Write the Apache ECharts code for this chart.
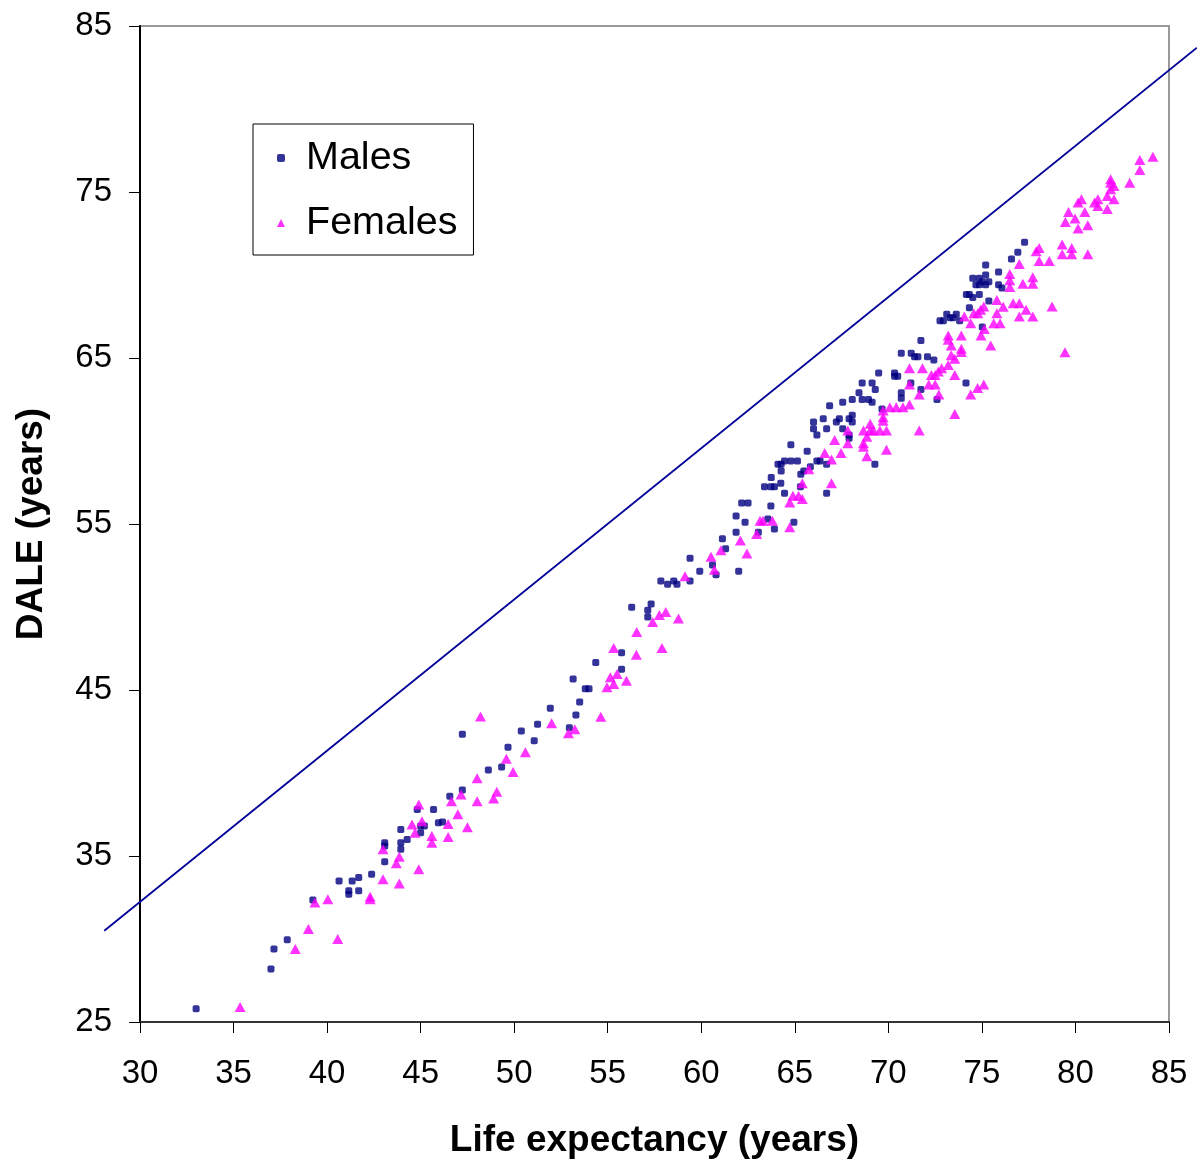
<!DOCTYPE html>
<html><head><meta charset="utf-8">
<script src="https://cdn.jsdelivr.net/npm/echarts@6/dist/echarts.min.js"></script>
<style>html,body{margin:0;padding:0;background:#fff}#c{width:1197px;height:1165px}</style>
</head><body><div id="c"></div>
<script>
const xTicks = [30,35,40,45,50,55,60,65,70,75,80,85];
const yTicks = [25,35,45,55,65,75,85];
const xTitle = 'Life expectancy (years)';
const yTitle = 'DALE (years)';
const seriesNames = ['Males','Females'];

const males = [
[33.0,25.8],[37.0,28.2],[37.16,29.4],[37.87,29.96],[39.24,32.35],[40.64,33.5],[41.16,32.9],[41.16,32.7],[41.34,33.5],[41.69,33.7],[41.69,32.9],[42.38,33.9],[43.08,35.8],[43.08,35.6],[43.08,34.65],[43.94,36.6],[43.94,35.8],[43.94,35.4],[44.28,36.0],[44.82,37.8],[45.0,36.8],[45.2,36.8],[45.0,36.4],[45.69,37.8],[45.95,37.0],
[55.74,47.25],[54.36,46.65],[55.74,46.25],[53.15,45.66],[53.8,45.08],[54.0,45.08],[53.5,44.28],[53.3,43.5],[51.93,43.9],[52.95,42.73],[51.25,42.93],[50.38,42.53],[51.07,41.95],[49.67,41.55],[47.23,42.33],[49.33,40.36],[48.62,40.18],[47.23,38.98],[46.56,38.6],[46.17,37.05],
[63.38,57.25],[63.72,57.25],[63.91,57.25],[64.25,57.45],[65.3,57.25],[64.45,56.85],[66.7,56.85],[62.16,56.27],[62.5,56.27],[63.72,56.08],[61.86,55.48],[62.34,55.1],[63.56,55.3],[64.95,55.1],[61.86,54.5],[63.05,54.5],[63.91,54.7],[61.13,54.11],[61.3,53.51],[59.4,52.93],[60.6,52.53],[59.92,52.15],[62.0,52.15],[60.79,51.95],[57.84,51.57],[58.2,51.37],[58.53,51.57],[58.7,51.37],[59.4,51.57],[56.28,49.98],[57.32,50.18],[57.14,49.8],[57.14,49.4],
[71.74,66.05],[70.69,65.28],[71.22,65.28],[71.4,65.08],[71.58,65.08],[72.09,65.08],[72.43,64.88],[69.48,64.1],[70.33,64.1],[70.33,63.9],[70.5,63.9],[68.6,63.5],[69.13,63.5],[69.3,63.1],[70.69,62.9],[70.69,62.57],[71.74,63.1],[72.6,62.5],[74.15,63.5],[68.43,62.9],[68.6,62.5],[68.94,62.5],[69.13,62.33],[68.07,62.5],[67.56,62.33],[66.86,62.13],[69.66,61.93],[68.07,61.55],[68.07,61.14],[67.9,61.34],[67.38,61.34],[67.22,61.14],[66.52,61.34],[66.0,61.14],[66.0,60.74],[66.7,60.74],[66.18,60.36],[67.56,60.74],[67.9,60.36],[67.9,60.16],[64.79,59.78],[65.66,59.38],[64.1,58.6],[64.27,58.6],[64.45,58.8],[64.79,58.8],[65.14,58.8],[64.27,58.19],[65.83,58.45],[66.18,58.8],[66.35,58.8],[66.7,58.6],[65.32,58.0],[65.48,58.19],[63.74,57.8],[69.28,58.6],
[77.28,71.97],[76.92,71.37],[76.58,70.96],[75.2,70.6],[75.89,70.18],[75.2,70.0],[74.51,69.8],[74.86,69.8],[75.02,69.6],[75.37,69.6],[75.2,69.42],[74.86,69.42],[74.68,69.42],[75.89,69.42],[76.07,69.22],[74.17,68.82],[74.33,68.82],[74.51,68.64],[74.86,68.82],[75.37,68.43],[74.33,68.03],[73.12,67.63],[73.63,67.63],[73.3,67.43],[73.46,67.43],[72.76,67.25],[72.94,67.25],[73.81,67.25],[75.02,66.86],[71.2,63.5]
];

const females = [
[35.35,25.9],[38.3,29.4],[39.0,30.6],[39.35,32.2],[40.04,32.4],[40.57,30.0],[42.3,32.55],[42.3,32.4],[42.99,35.4],[42.99,33.6],[43.7,34.56],[43.86,34.96],[43.86,33.35],[44.9,38.1],[44.9,34.2],[44.54,36.9],[44.7,36.4],[45.07,37.1],[45.6,36.2],[45.6,35.8],
[55.32,47.53],[56.53,47.13],[57.9,47.53],[55.14,45.77],[55.5,45.96],[55.32,45.36],[54.96,45.16],[56.0,45.56],[54.63,43.39],[52.0,43.0],[52.9,42.4],[53.24,42.63],[48.2,43.4],[50.6,41.25],[49.58,40.86],[49.94,40.06],[48.02,39.68],[49.07,38.87],[48.9,38.47],[47.16,38.7],[46.65,38.3],[48.02,38.3],[46.99,37.51],[47.5,36.73],[46.47,36.93],[46.47,36.14],
[65.4,57.45],[66.96,57.45],[64.73,56.3],[64.9,56.7],[65.2,56.7],[65.4,56.5],[63.14,55.2],[63.3,55.2],[63.8,55.2],[64.73,54.8],[62.96,54.4],[62.09,54.0],[62.44,53.23],[61.05,53.42],[60.52,53.03],[60.7,52.25],[59.13,51.85],[58.1,49.7],[57.76,49.52],[57.4,49.1],[58.78,49.3],[56.55,48.5],
[73.2,66.35],[73.9,66.35],[74.95,66.35],[75.13,66.75],[75.47,65.76],[73.36,65.76],[73.9,65.56],[73.9,65.36],[73.36,65.16],[73.55,64.96],[73.2,64.58],[72.85,64.38],[72.67,64.18],[72.5,63.98],[72.3,63.98],[73.55,63.98],[71.13,64.38],[71.82,64.38],[71.13,63.4],[72.16,63.4],[72.5,63.4],[71.65,62.8],[72.7,62.8],[75.1,63.4],[74.77,63.2],[74.4,62.8],[73.55,61.63],[71.65,60.64],[71.13,62.2],[70.78,62.03],[70.42,62.03],[70.08,62.03],[69.72,61.83],[69.72,61.43],[69.72,61.22],[69.03,61.04],[69.03,60.64],[68.67,60.64],[69.2,60.64],[69.55,60.64],[69.9,60.64],[68.85,60.26],[68.67,59.86],[68.67,59.66],[68.85,59.08],[69.9,59.48],[67.83,60.64],[67.83,59.86],[67.13,60.06],[67.47,59.28],[66.96,58.88],[66.6,59.28],[65.75,58.3],
[79.46,73.2],[80.66,73.0],[80.14,72.8],[79.29,71.84],[79.8,71.63],[79.8,71.25],[79.29,71.25],[80.66,71.25],[78.06,71.63],[77.9,71.43],[78.06,70.84],[78.6,70.84],[77.0,70.66],[76.49,70.06],[76.49,69.68],[76.49,69.28],[77.19,69.48],[77.72,69.86],[77.72,69.48],[75.8,68.5],[76.14,68.09],[76.67,68.3],[77.0,68.3],[77.36,67.9],[77.0,67.5],[77.72,67.5],[78.75,68.1],[75.8,67.7],[75.63,67.1],[75.97,67.1],[75.1,68.1],[74.93,67.9],[74.78,67.7],[74.57,67.7],[74.4,67.1],[74.06,67.5],[73.2,66.1],[79.44,65.34],
[84.14,77.13],[83.44,76.93],[83.44,76.33],[82.9,75.56],[81.88,75.77],[81.88,75.56],[82.06,75.36],[81.88,75.16],[81.7,74.76],[82.06,74.56],[81.7,73.98],[81.2,74.56],[81.02,74.36],[81.2,74.16],[80.32,74.56],[80.14,74.36],[80.5,73.8],[79.63,73.8],[79.98,73.4]
];

// reference line, endpoints (it runs past the plot frame)
const refLine = [[28.09,30.5],[86.49,83.69]];

const W = 1197, H = 1165;
const G = {left:140, right:28, top:26, bottom:143};
const xMin = xTicks[0], xMax = xTicks[xTicks.length-1];
const yMin = yTicks[0], yMax = yTicks[yTicks.length-1];
// a second, invisible full-canvas coordinate system with the same scale, so the
// reference line can extend beyond the frame like in the original
const xPer = (xMax - xMin) / (W - G.left - G.right);
const yPer = (yMax - yMin) / (H - G.top - G.bottom);

const FONT = '"Liberation Sans", Arial, sans-serif';
const chart = echarts.init(document.getElementById('c'), null, {renderer:'canvas'});
chart.setOption({
  animation: false,
  backgroundColor: '#fff',
  grid: [
    {left:G.left, right:G.right, top:G.top, bottom:G.bottom, show:true, borderColor:'#999', borderWidth:2, backgroundColor:'transparent'},
    {left:0, right:0, top:0, bottom:0, show:false}
  ],
  legend: {
    data: seriesNames,
    orient: 'vertical',
    left: 253, top: 124,
    padding: [14, 16, 12, 24],
    itemGap: 25,
    itemWidth: 8, itemHeight: 8,
    backgroundColor: '#fff',
    borderColor: '#000', borderWidth: 1,
    textStyle: {fontSize: 39.5, color:'#000', fontFamily: FONT, lineHeight: 40, padding:[0,0,0,16]}
  },
  xAxis: [{
    gridIndex:0, type:'value', min: xMin, max: xMax, interval: 5,
    axisLine: {show:true, onZero:false, lineStyle:{color:'#333', width:2}},
    axisTick: {show:true, length:11, lineStyle:{color:'#000', width:1}},
    axisLabel: {fontSize:33, color:'#000', fontFamily:FONT, margin:35},
    splitLine: {show:false},
    name: xTitle, nameLocation:'middle', nameGap: 100,
    nameTextStyle: {fontSize:37, fontWeight:'bold', color:'#000', fontFamily:FONT}
  },{
    gridIndex:1, type:'value', show:false,
    min: xMin - G.left * xPer, max: xMax + G.right * xPer
  }],
  yAxis: [{
    gridIndex:0, type:'value', min: yMin, max: yMax,
    axisLine: {show:true, onZero:false, lineStyle:{color:'#000', width:2}},
    axisTick: {show:true, length:11, customValues: yTicks, lineStyle:{color:'#000', width:1}},
    axisLabel: {fontSize:33, color:'#000', fontFamily:FONT, margin:28, customValues: yTicks},
    splitLine: {show:false},
    name: yTitle, nameLocation:'middle', nameGap: 90,
    nameTextStyle: {fontSize:37, fontWeight:'bold', color:'#000', fontFamily:FONT}
  },{
    gridIndex:1, type:'value', show:false,
    min: yMin - G.bottom * yPer, max: yMax + G.top * yPer
  }],
  series: [
    {name:'ref', type:'line', xAxisIndex:1, yAxisIndex:1, data: refLine, symbol:'none', clip:false, silent:true,
     lineStyle:{color:'#000099', width:1.8}, z:5},
    {name: seriesNames[0], type:'scatter', data: males, symbol:'roundRect', symbolSize:7,
     itemStyle:{color:'#000080'}, z:2},
    {name: seriesNames[1], type:'scatter', data: females, symbol:'triangle', symbolSize:[11,10],
     itemStyle:{color:'#FF00FF'}, z:3}
  ]
});
</script>
</body></html>
